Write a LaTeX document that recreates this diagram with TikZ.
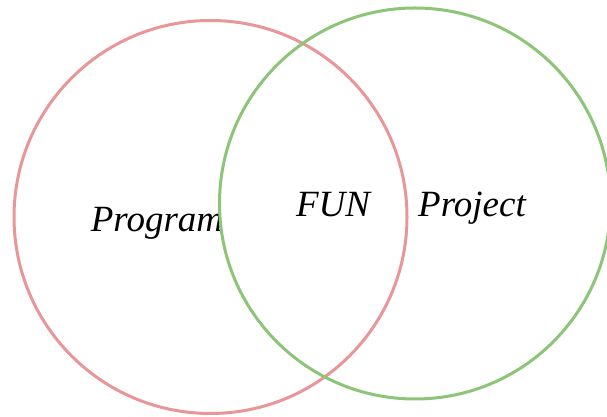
\documentclass[tikz,border=0pt]{standalone}
\usepackage{fontspec}
\setmainfont{Liberation Serif}
\definecolor{vred}{RGB}{232,150,152}
\definecolor{vgreen}{RGB}{140,196,120}
\tikzset{
  ring/.style={draw, line width=3pt, fill=none},
  lbl/.style={font=\fontsize{37}{40}\selectfont\itshape, anchor=base, inner sep=0pt}
}
\begin{document}
\begin{tikzpicture}[x=1pt,y=1pt]
\useasboundingbox (0,0) rectangle (607,417);
\node[ring, vred, circle, minimum size=393pt, inner sep=0pt] (prog) at (210.5,200) {};
\node[lbl] (tprog) at (157,185) {Program};
\node[lbl] (tfun) at (333,200) {FUN};
\node[lbl] (tproj) at (472,200) {Project};
\begin{scope}
\clip (0,0) rectangle (607,417);
\node[ring, vgreen, circle, minimum size=391pt, inner sep=0pt] (proj) at (415,213.5) {};
\end{scope}
\end{tikzpicture}
\end{document}
